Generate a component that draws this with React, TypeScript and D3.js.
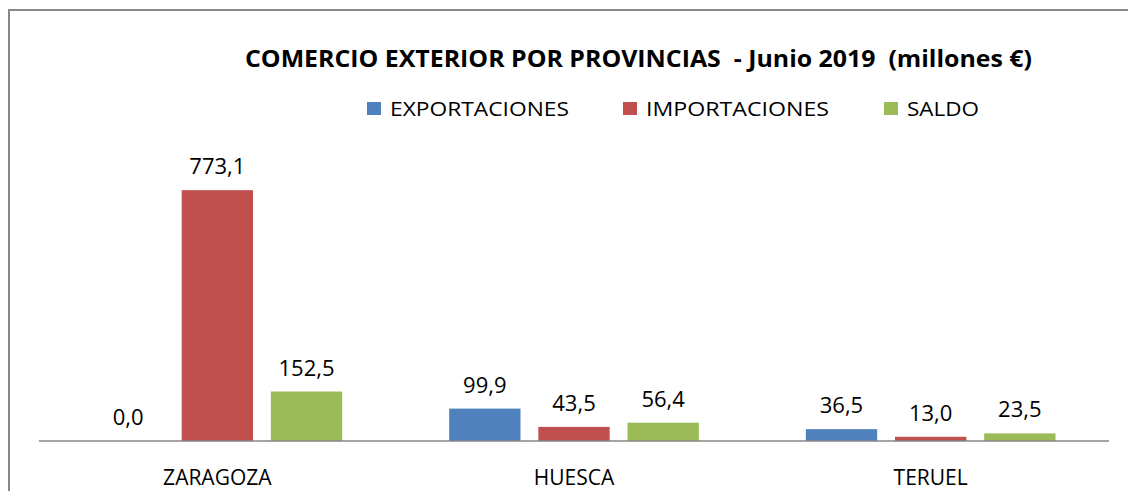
import React from "react";
import * as d3 from "d3";

const width = 1128;
const height = 491;

const categories = ["ZARAGOZA", "HUESCA", "TERUEL"];
const seriesNames = ["EXPORTACIONES", "IMPORTACIONES", "SALDO"];
const exportaciones = [0.0, 99.9, 36.5];
const importaciones = [773.1, 43.5, 13.0];
const saldo = [152.5, 56.4, 23.5];
const colors = ["#4F81BD", "#C0504D", "#9BBB59"];

const title = "COMERCIO EXTERIOR POR PROVINCIAS  - Junio 2019  (millones €)";

// legend item x positions and text spans
const legendX = [367, 623, 884];
const legendTextW = [179, 183, 72];

const fmt = (v: number) => v.toFixed(1).replace(".", ",");

export default function App() {
  const values = [exportaciones, importaciones, saldo];

  const x0 = d3
    .scaleBand()
    .domain(categories)
    .range([39, 1109])
    .paddingInner(0.3)
    .paddingOuter(0.15);

  const x1 = d3
    .scaleBand()
    .domain(seriesNames)
    .range([0, x0.bandwidth()])
    .paddingInner(0.2);

  const y = d3.scaleLinear().domain([0, 900]).range([441, 149]);

  const font = "'Open Sans', 'Liberation Sans', sans-serif";

  return (
    <div style={{ position: "absolute", left: 0, top: 0 }}>
      <svg width={width} height={height} style={{ display: "block", background: "#fff" }}>
        {/* frame */}
        <line x1={8} x2={width} y1={10} y2={10} stroke="#878787" strokeWidth={2} />
        <line x1={9} x2={9} y1={10} y2={height} stroke="#878787" strokeWidth={2} />

        <text
          x={245}
          y={67}
          fontFamily={font}
          fontWeight="bold"
          fontSize={23}
          textLength={787}
          lengthAdjust="spacingAndGlyphs"
          style={{ whiteSpace: "pre" }}
          fill="#000"
        >
          {title}
        </text>

        {/* legend */}
        {seriesNames.map((s, i) => (
          <g key={s}>
            <rect x={legendX[i]} y={102} width={14} height={13} fill={colors[i]} />
            <text
              x={legendX[i] + 23}
              y={116}
              fontFamily={font}
              fontSize={20}
              textLength={legendTextW[i]}
              lengthAdjust="spacingAndGlyphs"
              fill="#000"
            >
              {s}
            </text>
          </g>
        ))}

        {/* bars */}
        {categories.map((c, ci) => (
          <g key={c} transform={`translate(${x0(c)},0)`}>
            {seriesNames.map((s, si) => {
              const v = values[si][ci];
              const bx = x1(s) as number;
              return (
                <g key={s}>
                  <rect
                    x={bx}
                    y={y(v)}
                    width={x1.bandwidth()}
                    height={y(0) - y(v)}
                    fill={colors[si]}
                  />
                  <text
                    x={bx + x1.bandwidth() / 2}
                    y={y(v) - 16}
                    textAnchor="middle"
                    fontFamily={font}
                    fontSize={22}
                    fill="#000"
                  >
                    {fmt(v)}
                  </text>
                </g>
              );
            })}
          </g>
        ))}

        {/* baseline */}
        <line x1={39} x2={1109} y1={y(0)} y2={y(0)} stroke="#868686" strokeWidth={1.5} />

        {/* category labels */}
        {categories.map((c) => (
          <text
            key={c}
            x={(x0(c) as number) + x0.bandwidth() / 2}
            y={485}
            textAnchor="middle"
            fontFamily={font}
            fontSize={21}
            fill="#000"
          >
            {c}
          </text>
        ))}
      </svg>
    </div>
  );
}
